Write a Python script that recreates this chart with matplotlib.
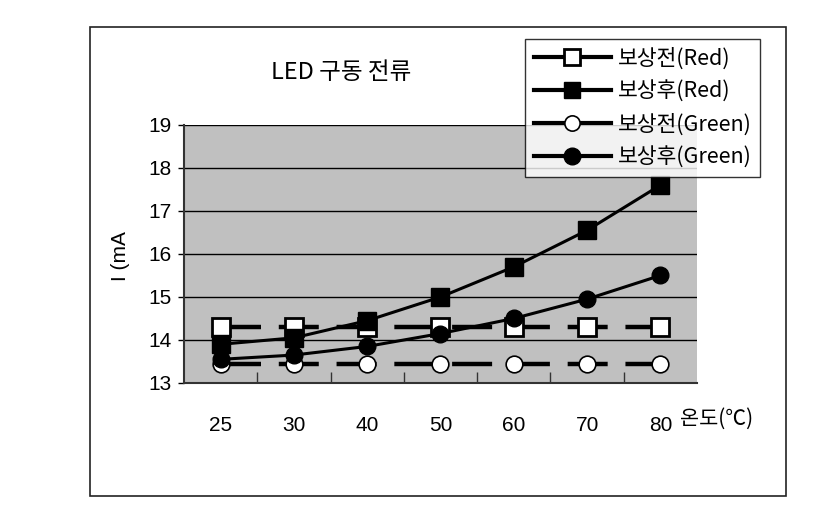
import matplotlib.pyplot as plt
from matplotlib.lines import Line2D
from matplotlib.patches import Rectangle
from matplotlib import font_manager

# data
temps = ['25', '30', '40', '50', '60', '70', '80']
red_before = [14.3, 14.3, 14.3, 14.3, 14.3, 14.3, 14.3]
red_after = [13.9, 14.05, 14.45, 15.0, 15.7, 16.55, 17.6]
green_before = [13.45, 13.45, 13.45, 13.45, 13.45, 13.45, 13.45]
green_after = [13.55, 13.65, 13.85, 14.15, 14.5, 14.95, 15.5]
series_names = ['보상전(Red)', '보상후(Red)', '보상전(Green)', '보상후(Green)']

names = {f.name for f in font_manager.fontManager.ttflist}
num_font = 'Liberation Sans Narrow' if 'Liberation Sans Narrow' in names else 'Liberation Sans'
plt.rcParams['font.family'] = ['Noto Sans CJK KR', 'DejaVu Sans']

fig = plt.figure(figsize=(8.28, 5.07), dpi=100)
fig.patch.set_facecolor('white')

# outer frame around the whole chart
fig.patches.append(Rectangle((0.1087, 0.022), 0.84, 0.925, transform=fig.transFigure,
                             fill=False, edgecolor='#222222', linewidth=1.2))

ax = fig.add_axes([0.2222, 0.2446, 0.6196, 0.5089])
ax.set_facecolor('#c0c0c0')
x = list(range(len(temps)))

ax.plot(x, red_before, color='black', linewidth=3.2, dashes=(9, 4),
        marker='s', markersize=13, markerfacecolor='white', markeredgecolor='black',
        markeredgewidth=2, zorder=3)
ax.plot(x, green_before, color='black', linewidth=3.2, dashes=(9, 4),
        marker='o', markersize=12, markerfacecolor='white', markeredgecolor='black',
        markeredgewidth=1.2, zorder=3)
ax.plot(x, red_after, color='black', linewidth=2.2,
        marker='s', markersize=13, markerfacecolor='black', zorder=4)
ax.plot(x, green_after, color='black', linewidth=2.2,
        marker='o', markersize=12, markerfacecolor='black', zorder=4)

ax.set_xlim(-0.5, len(temps) - 0.5)
ax.set_ylim(13, 19)
ax.set_yticks(range(13, 20))
ax.yaxis.grid(True, color='black', linewidth=1)
ax.set_axisbelow(True)

ax.set_xticks(x)
ax.set_xticklabels(temps, fontsize=15, family=num_font)
ax.set_xticks([i + 0.5 for i in x[:-1]], minor=True)
ax.tick_params(axis='x', which='major', length=0, pad=24)
ax.tick_params(axis='x', which='minor', direction='in', length=8, width=1, color='#333333')
ax.tick_params(axis='y', length=4, width=1, pad=5, labelsize=15)
for lbl in ax.get_yticklabels():
    lbl.set_family(num_font)

for s in ['top', 'right']:
    ax.spines[s].set_visible(False)
for s in ['left', 'bottom']:
    ax.spines[s].set_color('#333333')
    ax.spines[s].set_linewidth(1.5)

ax.text(6.27, -0.14, '온도(℃)', transform=ax.get_xaxis_transform(), fontsize=15,
        ha='left', va='center')
fig.text(0.145, 0.495, 'I (mA', rotation=90, fontsize=15, ha='center', va='center',
         family=num_font)
fig.text(0.412, 0.857, 'LED 구동 전류', fontsize=17, ha='center', va='center')

handles = [
    Line2D([], [], color='black', linewidth=3, marker='s', markersize=11,
           markerfacecolor='white', markeredgewidth=2),
    Line2D([], [], color='black', linewidth=3, marker='s', markersize=12,
           markerfacecolor='black'),
    Line2D([], [], color='black', linewidth=3, marker='o', markersize=11,
           markerfacecolor='white', markeredgewidth=1.2),
    Line2D([], [], color='black', linewidth=3, marker='o', markersize=12,
           markerfacecolor='black'),
]
leg = fig.legend(handles, series_names, loc='upper left', bbox_to_anchor=(0.634, 0.923),
                 fontsize=15.5, frameon=True, fancybox=False, handlelength=3.6,
                 labelspacing=0.5, borderpad=0.4, handletextpad=0.3, borderaxespad=0)
leg.get_frame().set_edgecolor('black')
leg.get_frame().set_linewidth(1)
leg.set_zorder(10)

fig.savefig('out.png', dpi=100)
